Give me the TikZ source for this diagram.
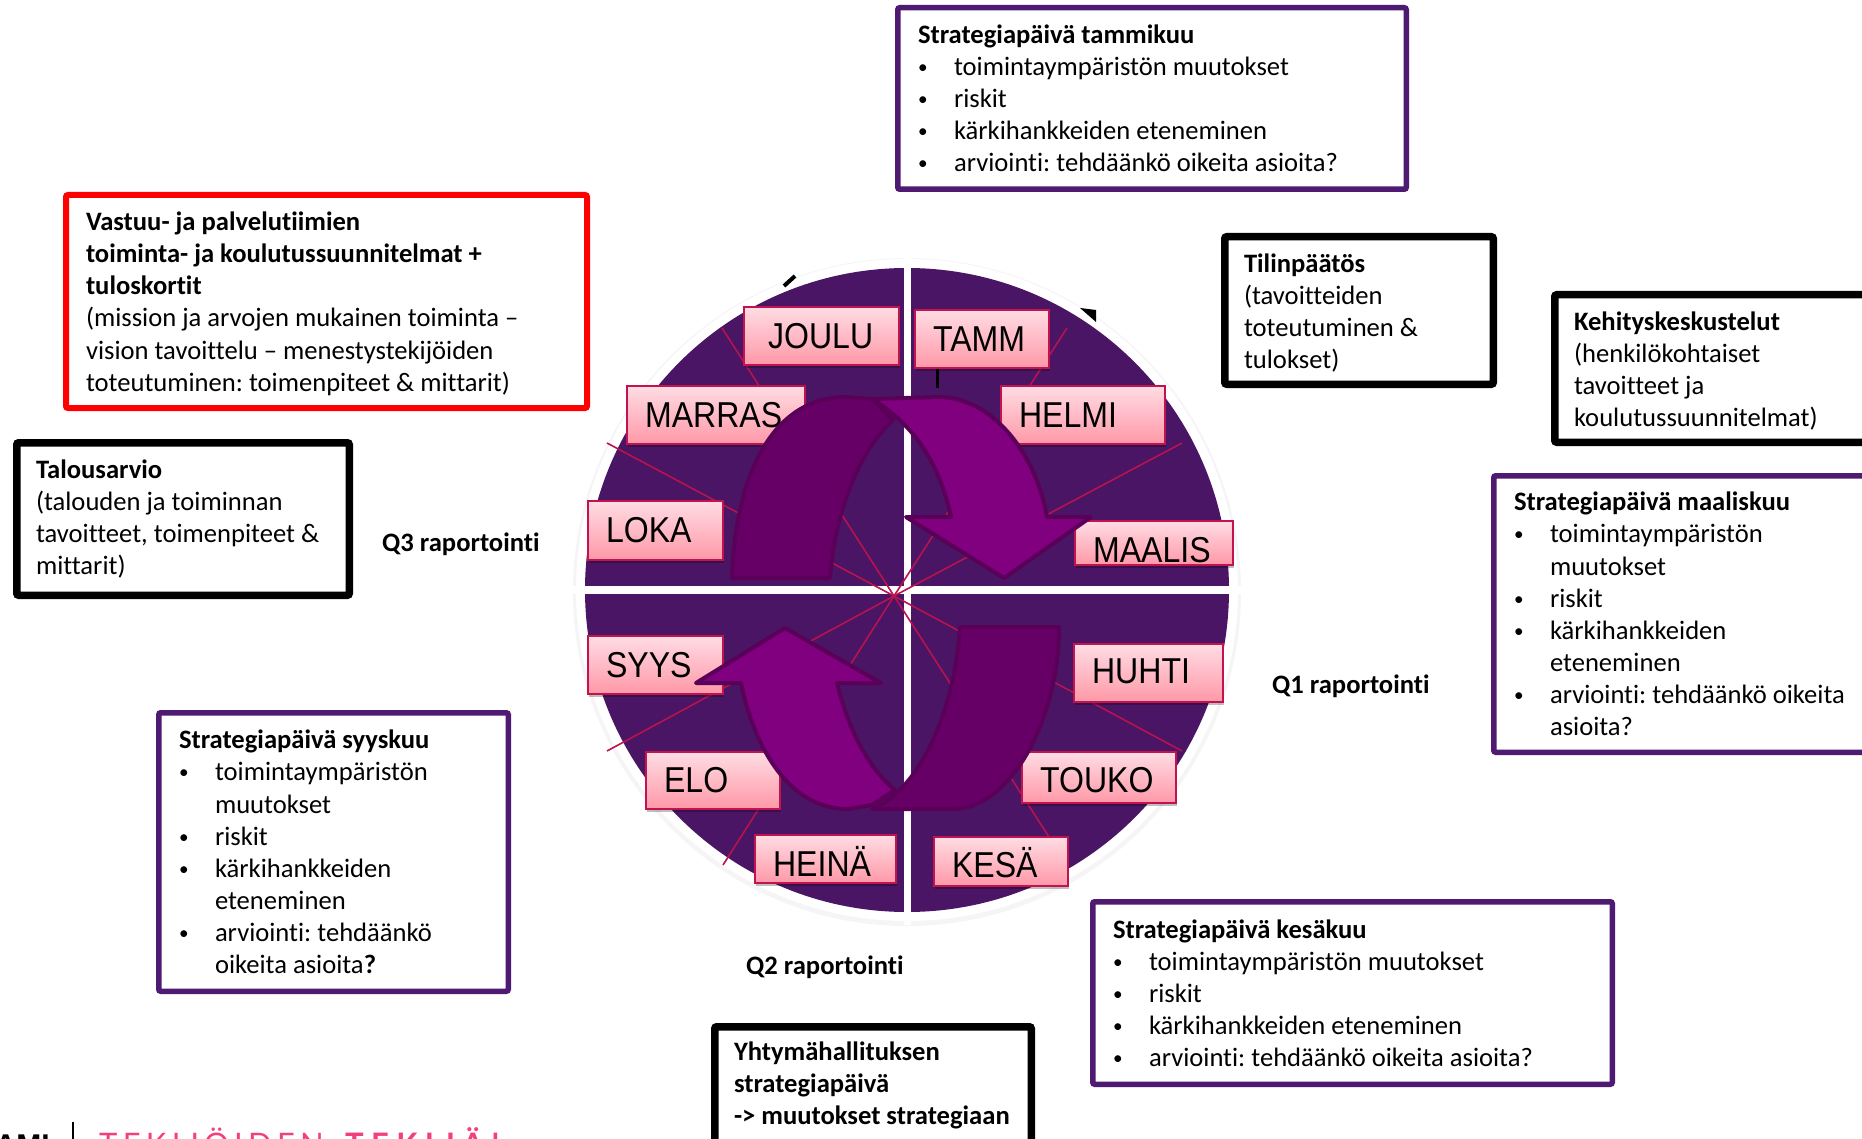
\documentclass[tikz,border=0pt]{standalone}
\usepackage{fontspec}
\usetikzlibrary{shadows}
\setmainfont[Ligatures=NoCommon]{Carlito}
\newfontfamily\monthfont[FakeStretch=.89]{Liberation Sans}
\newfontfamily\amifont{Liberation Sans}
\newfontfamily\tekfont[LetterSpace=17]{Lato}
\definecolor{quad}{HTML}{4A1564}
\definecolor{strat}{HTML}{4F1A72}
\definecolor{spoke}{HTML}{B8124F}
\definecolor{arrdark}{HTML}{660066}
\definecolor{arrlight}{HTML}{800080}
\definecolor{arredge}{HTML}{5B0058}
\definecolor{monthedge}{HTML}{C2124F}
\definecolor{monthtop}{HTML}{FFDCE3}
\definecolor{monthbot}{HTML}{FF98A8}
\definecolor{pinktext}{HTML}{F2407F}
\newcommand{\bl}{\makebox[36pt][l]{\raisebox{2pt}{\scalebox{.72}{•}}}}
\newcommand{\ind}{\hspace*{36pt}}
\tikzset{
  infobox/.style={anchor=north west,draw,fill=white,align=flush left,inner ysep=0pt,rounded corners=2pt,
    font=\fontsize{26.6}{32.1}\selectfont\frenchspacing,text width=#1},
  stratbox/.style={infobox=#1,draw=strat,line width=5.5pt,inner xsep=20.25pt},
  blackbox/.style={infobox=#1,draw=black,line width=7.5pt,inner xsep=19.25pt},
  redbox/.style={infobox=#1,draw=red,line width=6pt,inner xsep=20pt},
  rep/.style={anchor=west,font=\fontsize{26.6}{32}\selectfont\bfseries,inner sep=0pt},
  monthbox/.style={anchor=north west,draw=monthedge,line width=2.2pt,top color=monthtop,bottom color=monthbot,
    font=\monthfont\fontsize{36}{38}\selectfont,align=left,inner ysep=0pt,inner xsep=18pt,text height=24pt,text depth=0pt,
    general shadow={shadow xshift=1pt,shadow yshift=-2.5pt,fill=black,opacity=.25}},
  spokeline/.style={draw=spoke,line width=1.6pt},
  arrowdark/.style={fill=arrdark,draw=arredge,line width=4pt,line join=round},
  arrowlight/.style={fill=arrlight,draw=arredge,line width=4pt,line join=round}
}
\begin{document}
\begin{tikzpicture}[x=1pt,y=-1pt]
\useasboundingbox (0,0) rectangle (1862,1139);
\clip (0,0) rectangle (1862,1139);
% wheel
\coordinate (centre) at (907,590);
\coordinate (hub) at (894,596);
\fill[black!4] (907,592) circle[radius=334pt];
\fill[white] (centre) circle[radius=331pt];
% slivers hidden behind the wheel
\draw[black,line width=4pt] (784,286) -- (795,276);
\fill[black] (1080,308) -- (1096,310) -- (1096,322) -- cycle;
\fill[quad] (centre) circle[radius=322pt];
\fill[white] (903.5,255) rectangle (911,925);
\fill[white] (570,586) rectangle (1245,594);
\draw[black,line width=3pt] (937,365) -- (937,388);
% spokes
\coordinate (s1) at (722,328);
\coordinate (s2) at (607,443);
\coordinate (s3) at (1067,328);
\coordinate (s4) at (1182,443);
\coordinate (s5) at (607,751);
\coordinate (s6) at (723,865);
\coordinate (s7) at (1182,751);
\coordinate (s8) at (1067,865);
\foreach \e in {s1,s2,s3,s4,s5,s6,s7,s8} \draw[spokeline] (hub) -- (\e);
% months
\node[monthbox,text width=107pt,minimum height=58pt,inner xsep=24pt] (joulu) at (743,306) {JOULU};
\node[monthbox,text width=98pt,minimum height=58pt] (tamm) at (914,309) {TAMM};
\node[monthbox,text width=142pt,minimum height=58pt] (marras) at (626,385) {MARRAS};
\node[monthbox,text width=128pt,minimum height=58pt] (helmi) at (1000,385) {HELMI};
\node[monthbox,text width=99pt,minimum height=59pt] (loka) at (587,500) {LOKA};
\node[monthbox,text width=122pt,minimum height=44pt,text height=38pt] (maalis) at (1074,520) {MAALIS};
\node[monthbox,text width=99pt,minimum height=58pt] (syys) at (587,635) {SYYS};
\node[monthbox,text width=113pt,minimum height=58pt,text height=20pt] (huhti) at (1073,643) {HUHTI};
\node[monthbox,text width=98pt,minimum height=57pt] (elo) at (645,751) {ELO};
\node[monthbox,text width=118pt,minimum height=51pt,text height=29pt] (touko) at (1021,751) {TOUKO};
\node[monthbox,text width=105pt,minimum height=48pt,text height=34pt] (heina) at (754,834) {HEINÄ};
\node[monthbox,text width=98pt,minimum height=49pt,text height=32pt] (kesa) at (933,836) {KESÄ};
% top arrow
\draw[arrowdark] (732,578) .. controls (735,480) and (770,397) .. (846,397) -- (872,399) -- (893,420) .. controls (860,450) and (835,510) .. (830,578) -- cycle;
\draw[arrowlight] (872,399) -- (939,397) .. controls (990,397) and (1035,450) .. (1047,517) -- (1091,517) -- (1004,578) -- (906,517) -- (951,517) .. controls (940,465) and (915,425) .. (872,399) -- cycle;
% bottom arrow
\draw[arrowlight] (785,628) -- (881,683) -- (837,683) .. controls (848,730) and (870,770) .. (895,790) -- (872,805) -- (848,809) .. controls (790,809) and (755,750) .. (741,683) -- (696,683) -- cycle;
\draw[arrowdark] (960,627) -- (1059,627) .. controls (1059,720) and (1010,809) .. (953,809) -- (872,809) .. controls (920,790) and (955,710) .. (960,627) -- cycle;
% info boxes
\node[stratbox=468pt,minimum width=508.5pt,minimum height=181.5pt] (tammikuu) at (895,5) {\textbf{Strategiapäivä tammikuu}\\\bl toimintaympäristön muutokset\\\bl riskit\\\bl kärkihankkeiden eteneminen\\\bl arviointi: tehdäänkö oikeita asioita?};
\node[redbox=481pt,minimum width=521pt,minimum height=213pt] (vastuu) at (63,192) {\rule{0pt}{23pt}\textbf{Vastuu- ja palvelutiimien}\\\textbf{toiminta- ja koulutussuunnitelmat +}\\\textbf{tuloskortit}\\(mission ja arvojen mukainen toiminta –\\vision tavoittelu – menestystekijöiden\\toteutuminen: toimenpiteet \& mittarit)};
\node[blackbox=230pt,minimum width=268.5pt,minimum height=147.5pt] (tilin) at (1221,233) {\rule{0pt}{23.5pt}\textbf{Tilinpäätös}\\(tavoitteiden\\toteutuminen \&\\tulokset)};
\node[blackbox=300pt,minimum width=338.5pt,minimum height=147.5pt] (kehitys) at (1551,291) {\rule{0pt}{23.5pt}\textbf{Kehityskeskustelut}\\(henkilökohtaiset\\tavoitteet ja\\koulutussuunnitelmat)};
\node[blackbox=294pt,minimum width=332.5pt,minimum height=152.5pt] (talous) at (13,439) {\textbf{Talousarvio}\\(talouden ja toiminnan\\tavoitteet, toimenpiteet \&\\mittarit)};
\node[stratbox=343pt,minimum width=383.5pt,minimum height=276.5pt] (maalis2) at (1491,473) {\textbf{Strategiapäivä maaliskuu}\\\bl toimintaympäristön\\\ind muutokset\\\bl riskit\\\bl kärkihankkeiden\\\ind eteneminen\\\bl arviointi: tehdäänkö oikeita\\\ind asioita?};
\node[stratbox=309pt,minimum width=349.5pt,minimum height=278.5pt] (syyskuu) at (156,710) {\textbf{Strategiapäivä syyskuu}\\\bl toimintaympäristön\\\ind muutokset\\\bl riskit\\\bl kärkihankkeiden\\\ind eteneminen\\\bl arviointi: tehdäänkö\\\ind oikeita asioita\textbf{?}};
\node[stratbox=479pt,minimum width=519.5pt,minimum height=182.5pt] (kesakuu) at (1090,899) {\textbf{Strategiapäivä kesäkuu}\\\bl toimintaympäristön muutokset\\\bl riskit\\\bl kärkihankkeiden eteneminen\\\bl arviointi: tehdäänkö oikeita asioita?};
\node[blackbox=278pt,minimum width=316.5pt,minimum height=125pt] (yhtyma) at (711,1023) {\textbf{Yhtymähallituksen}\\\textbf{strategiapäivä}\\\mbox{\textbf{-> muutokset strategiaan}}\rule[-12pt]{0pt}{0pt}};
% reporting labels
\node[rep] (q3) at (382,544) {Q3 raportointi};
\node[rep] (q1) at (1272,686) {Q1 raportointi};
\node[rep] (q2) at (746,967) {Q2 raportointi};
% footer
\node[anchor=base east,inner sep=0pt,font=\amifont\fontsize{30}{30}\selectfont\bfseries] (ami) at (50,1155) {AMI};
\draw[black,line width=1.5pt] (73,1122) -- (73,1140);
\node[anchor=base west,inner sep=0pt,text=pinktext,font=\tekfont\fontsize{31}{31}\selectfont] (tek) at (99,1155) {TEKIJÖIDEN\hspace{8pt} {\bfseries\addfontfeature{LetterSpace=24}TEKIJÄ!}};
\end{tikzpicture}
\end{document}
